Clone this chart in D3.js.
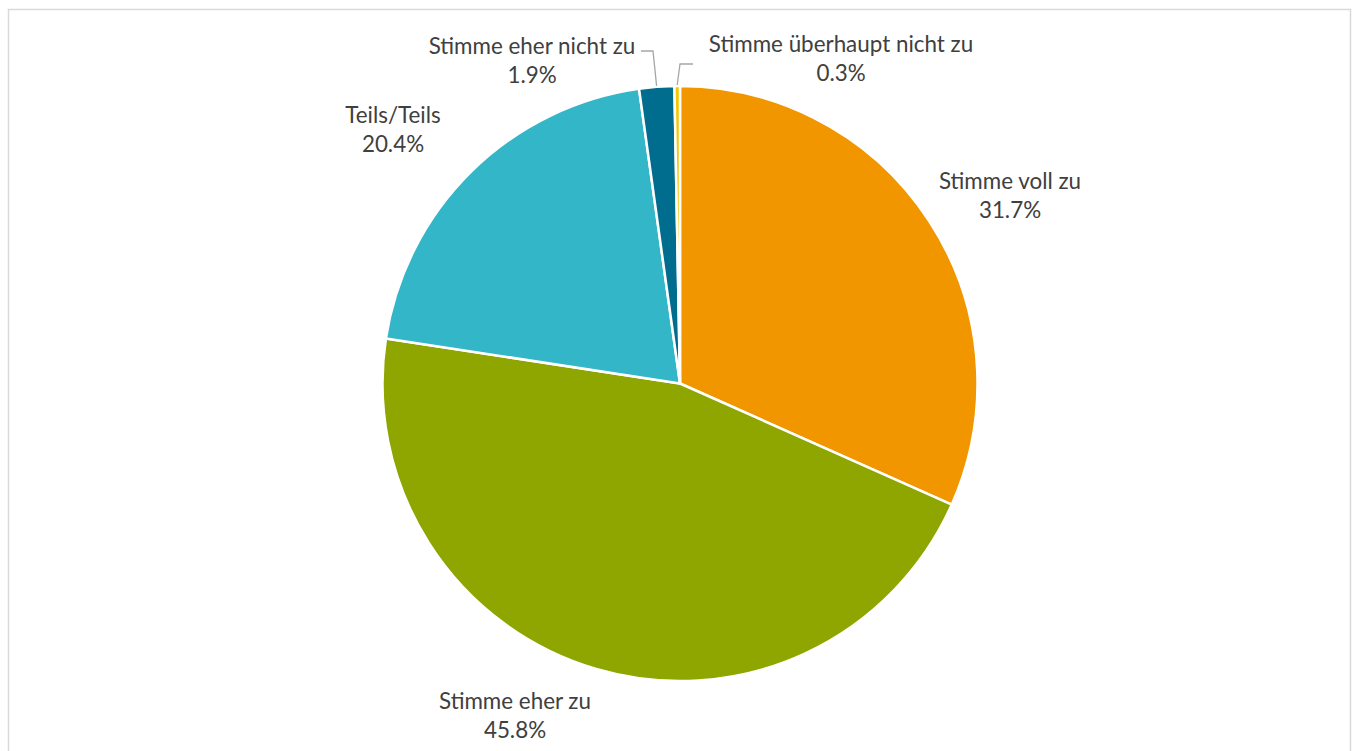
<!DOCTYPE html>
<html><head><meta charset="utf-8">
<script src="https://cdn.jsdelivr.net/npm/d3@7"></script>
<style>body{margin:0;background:#fff}svg{display:block}text{font-family:Lato,"Open Sans",sans-serif}</style>
</head><body><svg id="c" width="1355" height="751"></svg>
<script>
const categories = ["Stimme voll zu","Stimme eher zu","Teils/Teils","Stimme eher nicht zu","Stimme überhaupt nicht zu"];
const values = [31.7,45.8,20.4,1.9,0.3];
const colors = ["#F29600","#8FA500","#34B6C9","#006C8E","#F5C700"];
const labelPos = [[1010,181],[515,701],[393,115],[532,46],[841,44]];

const svg = d3.select("#c");
svg.append("rect").attr("x",8.5).attr("y",9.5).attr("width",1342).attr("height",760)
  .attr("fill","none").attr("stroke","#d9d9d9").attr("stroke-width",1.5);
const cx=680, cy=383.5, r=297.5;
const g = svg.append("g").attr("transform",`translate(${cx},${cy})`);
const pie = d3.pie().sort(null).value(d=>d)(values);
const arc = d3.arc().innerRadius(0).outerRadius(r);
g.selectAll("path").data(pie).join("path").attr("d",arc)
  .attr("fill",(d,i)=>colors[i]).attr("stroke","#fff").attr("stroke-width",2.5).attr("stroke-linejoin","round");

const lead = d3.line();
const mid = (d)=> (d.startAngle+d.endAngle)/2;
function pt(d, rr){const a=mid(d);return [cx+Math.sin(a)*rr, cy-Math.cos(a)*rr];}
const p3 = pt(pie[3], r+1), p4 = pt(pie[4], r+1);
svg.append("path").attr("d", lead([[641,51],[653,51],[p3[0],p3[1]]])).attr("fill","none").attr("stroke","#a6a6a6").attr("stroke-width",1.3);
svg.append("path").attr("d", lead([[p4[0],p4[1]],[680,64],[693,64]])).attr("fill","none").attr("stroke","#a6a6a6").attr("stroke-width",1.3);

categories.forEach((c,i)=>{
  const t = svg.append("text").attr("x",labelPos[i][0]).attr("y",labelPos[i][1]).attr("text-anchor","middle")
    .attr("fill","#404040").attr("font-size",22.4);
  t.append("tspan").attr("x",labelPos[i][0]).attr("dy","0.35em").text(c);
  t.append("tspan").attr("x",labelPos[i][0]).attr("dy",29.5).text(values[i].toFixed(1)+"%");
});
</script></body></html>
